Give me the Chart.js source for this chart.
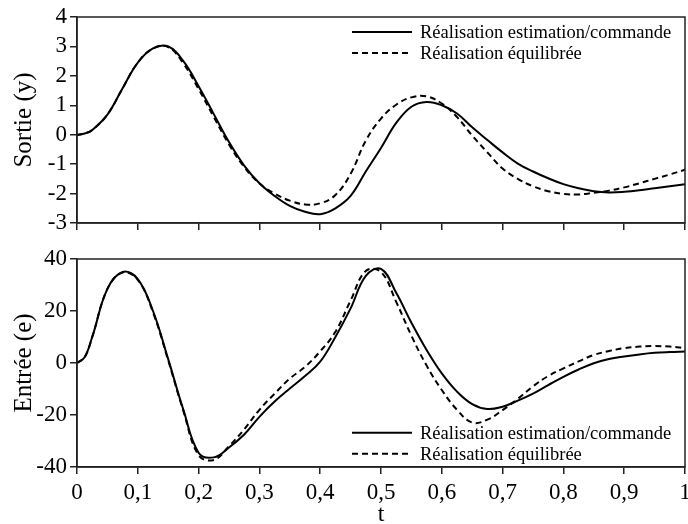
<!DOCTYPE html>
<html>
<head>
<meta charset="utf-8">
<script src="https://cdn.jsdelivr.net/npm/chart.js@4"></script>
<style>
  body { margin: 0; background: #fff; }
  #wrap { position: relative; width: 688px; height: 524px; }
  #topChart { position: absolute; left: 0; top: 0; }
  #bottomChart { position: absolute; left: 0; top: 240px; }
</style>
</head>
<body>
<div id="wrap">
  <canvas id="topChart" width="688" height="240"></canvas>
  <canvas id="bottomChart" width="688" height="284"></canvas>
</div>
<script>
// series names
const seriesLabels = ["Réalisation estimation/commande", "Réalisation équilibrée"];

// time samples (shared by both panels)
const tValues = [0, 0.0125, 0.025, 0.05, 0.075, 0.1, 0.125, 0.15, 0.175, 0.2, 0.225, 0.25, 0.275, 0.3,
  0.325, 0.35, 0.375, 0.4, 0.425, 0.45, 0.475, 0.5, 0.525, 0.55, 0.575, 0.6, 0.625, 0.65,
  0.675, 0.7, 0.725, 0.75, 0.775, 0.8, 0.825, 0.85, 0.875, 0.9, 0.925, 0.95, 0.975, 1];

// sortie (y) – top panel
const sortieEstimation = [0, 0.04, 0.16, 0.68, 1.58, 2.45, 2.93, 3.0, 2.5, 1.65, 0.7, -0.25, -1.05, -1.65,
  -2.08, -2.42, -2.62, -2.7, -2.5, -2.08, -1.25, -0.45, 0.4, 0.95, 1.11, 1.0, 0.72, 0.25,
  -0.18, -0.6, -0.98, -1.25, -1.48, -1.68, -1.82, -1.92, -1.96, -1.94, -1.89, -1.82, -1.75, -1.68];
const sortieEquilibree = [0, 0.04, 0.16, 0.68, 1.58, 2.45, 2.93, 2.98, 2.42, 1.55, 0.6, -0.33, -1.1, -1.65,
  -2.0, -2.24, -2.37, -2.33, -2.05, -1.33, -0.2, 0.55, 1.02, 1.27, 1.3, 1.06, 0.6, -0.03,
  -0.6, -1.15, -1.5, -1.75, -1.92, -2.01, -2.03, -1.97, -1.9, -1.79, -1.65, -1.5, -1.35, -1.19];

// entrée (e) – bottom panel
const entreeEstimation = [0, 2.2, 10, 28.5, 35, 32.3, 20, 1.5, -18, -34.5, -36.3, -32.5, -27.5, -20.7,
  -14.8, -9.8, -5, 0.5, 10, 21, 33.5, 36.2, 27, 15.5, 5, -4, -11, -15.8,
  -17.7, -16.8, -14.5, -11.8, -8.5, -5.3, -2.5, -0.1, 1.5, 2.5, 3.3, 3.9, 4.2, 4.4];
const entreeEquilibree = [0, 2.2, 10, 28.5, 34.8, 32, 19.5, 1, -18.5, -35.5, -37.3, -32, -25.5, -18,
  -11.8, -6, -1.5, 4.5, 12, 24, 35.4, 35, 23.5, 10.5, -1, -10.4, -18, -22.9,
  -21.8, -18.1, -13.8, -9, -5, -2.1, 0.6, 3.1, 4.6, 5.7, 6.3, 6.5, 6.3, 5.7];

const serif = "'Liberation Serif', 'Times New Roman', serif";
const ink = "#222";

// frame on top/right plus a line legend inside the plot
const framePlugin = {
  id: "frame",
  afterDraw(chart, args, opts) {
    const { ctx, chartArea: a } = chart;
    ctx.save();
    ctx.strokeStyle = ink;
    ctx.lineWidth = 1.5;
    ctx.strokeRect(a.left, a.top, a.right - a.left, a.bottom - a.top);
    chart.data.datasets.forEach((ds, i) => {
      const y = opts.y + i * 21;
      ctx.setLineDash(ds.borderDash);
      ctx.lineWidth = 2;
      ctx.strokeStyle = "#000";
      ctx.beginPath();
      ctx.moveTo(opts.x, y);
      ctx.lineTo(opts.x + 60, y);
      ctx.stroke();
      ctx.setLineDash([]);
      ctx.fillStyle = "#000";
      ctx.font = "18.5px " + serif;
      ctx.textBaseline = "middle";
      ctx.fillText(ds.label, opts.x + 68, y + 1);
    });
    ctx.restore();
  }
};

function lineSet(label, values, dash) {
  return {
    label: label,
    data: tValues.map((x, i) => ({ x: x, y: values[i] })),
    borderColor: "#000",
    borderWidth: 2,
    borderDash: dash,
    pointRadius: 0,
    fill: false,
    tension: 0.4,
  };
}

function makeChart(id, a, b, yCfg, xHeight, showX, padTop, legendY) {
  const ctx = document.getElementById(id).getContext("2d");
  return new Chart(ctx, {
    type: "line",
    data: {
      datasets: [
        lineSet(seriesLabels[0], a, []),
        lineSet(seriesLabels[1], b, [6, 4]),
      ],
    },
    plugins: [framePlugin],
    options: {
      responsive: false,
      animation: false,
      devicePixelRatio: 1,
      layout: { padding: { top: padTop, right: 3, left: 0, bottom: 0 } },
      plugins: {
        legend: { display: false },
        tooltip: { enabled: false },
        frame: { x: 352, y: legendY },
      },
      scales: {
        x: {
          type: "linear",
          min: 0,
          max: 1,
          border: { color: ink, width: 1.5 },
          grid: { drawOnChartArea: false, drawTicks: true, tickLength: 7, color: ink, lineWidth: 1.5 },
          ticks: {
            stepSize: 0.1,
            autoSkip: false,
            color: "#000",
            font: { family: serif, size: 23 },
            padding: 5,
            maxRotation: 0,
            callback: v => showX ? String(Math.round(v * 10) / 10).replace(".", ",") : "",
          },
          title: {
            display: showX,
            text: "t",
            color: "#000",
            font: { family: serif, size: 24, lineHeight: 0.75 },
            padding: { top: 0, bottom: 0 },
          },
          afterFit(s) { s.height = xHeight; s.paddingLeft = 0; s.paddingRight = 0; },
        },
        y: {
          min: yCfg.min,
          max: yCfg.max,
          border: { color: ink, width: 1.5 },
          grid: { drawOnChartArea: false, drawTicks: true, tickLength: 7, color: ink, lineWidth: 1.5 },
          ticks: {
            stepSize: yCfg.step,
            autoSkip: false,
            color: "#000",
            font: { family: serif, size: 23 },
            padding: 3,
            callback: v => String(v),
          },
          title: {
            display: true,
            text: yCfg.title,
            color: "#000",
            font: { family: serif, size: 25 },
            padding: { top: 9, bottom: 0 },
          },
          afterFit(s) { s.width = 77; },
        },
      },
    },
  });
}

makeChart("topChart", sortieEstimation, sortieEquilibree,
  { min: -3, max: 4, step: 1, title: "Sortie (y)" }, 17, false, 17, 32);
makeChart("bottomChart", entreeEstimation, entreeEquilibree,
  { min: -40, max: 40, step: 20, title: "Entrée (e)" }, 57, true, 19, 192.7);
</script>
</body>
</html>
